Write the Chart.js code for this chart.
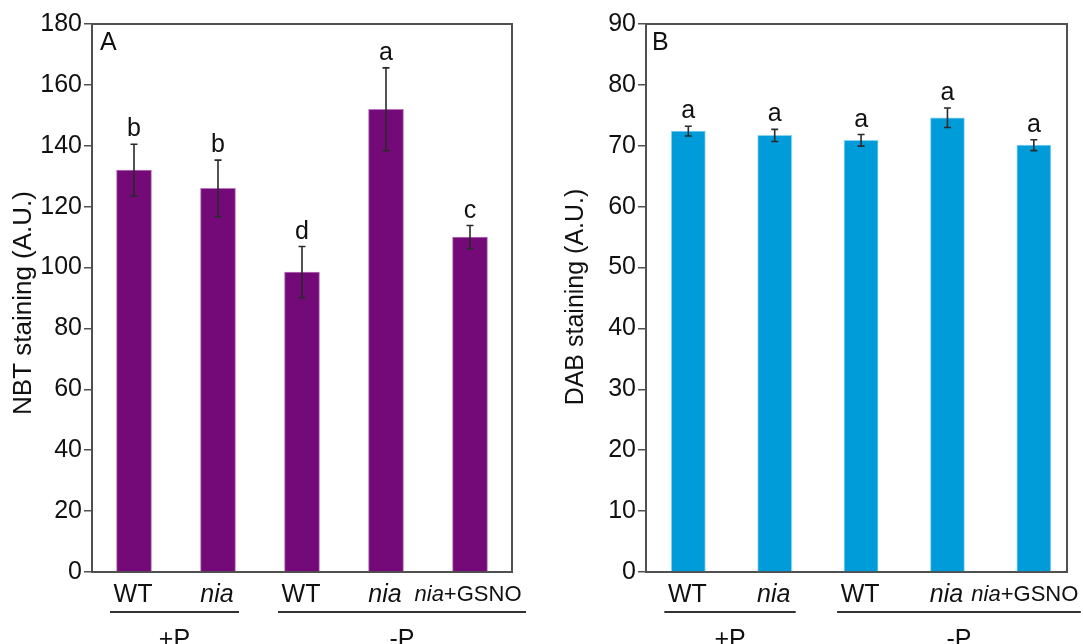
<!DOCTYPE html>
<html>
<head>
<meta charset="utf-8">
<script src="https://cdn.jsdelivr.net/npm/chart.js@4/dist/chart.umd.min.js"></script>
<style>
  html, body { margin: 0; padding: 0; background: #fff; }
  #wrap { position: relative; width: 1083px; height: 644px; overflow: hidden; }
  canvas { position: absolute; top: 0; }
</style>
</head>
<body>
<div id="wrap">
  <canvas id="cA" width="540" height="644" style="left:0px"></canvas>
  <canvas id="cB" width="543" height="644" style="left:540px"></canvas>
</div>
<script>
// ---- data ----
const categories = ['WT', 'nia', 'WT', 'nia', 'nia+GSNO'];
const groupLabels = ['+P', '-P'];
const nbtValues = [132, 126, 98.5, 152, 110];
const nbtErrors = [8.5, 9.3, 8.4, 13.6, 3.8];
const nbtLetters = ['b', 'b', 'd', 'a', 'c'];
const dabValues = [72.4, 71.7, 70.9, 74.6, 70.1];
const dabErrors = [0.8, 1.0, 0.95, 1.6, 0.9];
const dabLetters = ['a', 'a', 'a', 'a', 'a'];
const nbtTicks = { min: 0, max: 180, step: 20 };
const dabTicks = { min: 0, max: 90, step: 10 };

const FONT = '"Liberation Sans", Arial, Helvetica, sans-serif';
const AXIS = '#505050';

function decorPlugin(cfg) {
  return {
    id: 'decor' + cfg.panel,
    afterDatasetsDraw(chart) {
      const ctx = chart.ctx, xs = chart.scales.x, ys = chart.scales.y, ca = chart.chartArea;
      ctx.save();
      // frame (top and right)
      ctx.strokeStyle = AXIS; ctx.lineWidth = 2;
      ctx.beginPath();
      ctx.moveTo(ca.left, ca.top); ctx.lineTo(ca.right, ca.top); ctx.lineTo(ca.right, ca.bottom);
      ctx.stroke();
      // error bars and letters
      cfg.values.forEach((v, i) => {
        const px = xs.getPixelForValue(i);
        const yt = ys.getPixelForValue(v + cfg.errors[i]);
        const yb = ys.getPixelForValue(v - cfg.errors[i]);
        ctx.strokeStyle = '#2a2a2a'; ctx.lineWidth = 1.6;
        ctx.beginPath();
        ctx.moveTo(px, yt); ctx.lineTo(px, yb);
        ctx.moveTo(px - 3.5, yt); ctx.lineTo(px + 3.5, yt);
        ctx.moveTo(px - 3.5, yb); ctx.lineTo(px + 3.5, yb);
        ctx.stroke();
        ctx.fillStyle = '#111';
        ctx.font = '25px ' + FONT;
        ctx.textAlign = 'center'; ctx.textBaseline = 'alphabetic';
        ctx.fillText(cfg.letters[i], px, yt - 8);
      });
      // panel letter
      ctx.fillStyle = '#111';
      ctx.font = '25px ' + FONT;
      ctx.textAlign = 'left';
      ctx.fillText(cfg.panel, ca.left + cfg.letterDx, ca.top + 26);
      // x labels
      const baseY = ca.bottom + 30;
      categories.forEach((lab, i) => {
        const px = xs.getPixelForValue(i);
        if (lab === 'WT') {
          ctx.font = '25px ' + FONT; ctx.textAlign = 'center';
          ctx.fillText(lab, px - 1, baseY);
        } else if (lab === 'nia') {
          ctx.font = 'italic 25px ' + FONT; ctx.textAlign = 'center';
          ctx.fillText(lab, px - 1, baseY);
        } else {
          const parts = lab.split('+');
          const f1 = 'italic 22px ' + FONT, f2 = '22px ' + FONT;
          ctx.font = f1; const w1 = ctx.measureText(parts[0]).width;
          ctx.font = f2; const w2 = ctx.measureText('+' + parts[1]).width;
          let sx = px - cfg.gsnoShift - (w1 + w2) / 2;
          ctx.textAlign = 'left';
          ctx.font = f1; ctx.fillText(parts[0], sx, baseY - 1);
          ctx.font = f2; ctx.fillText('+' + parts[1], sx + w1, baseY - 1);
        }
      });
      // group lines
      const lineY = ca.bottom + 40;
      const g = [
        [xs.getPixelForValue(0) - 24, xs.getPixelForValue(1) + 21],
        [xs.getPixelForValue(2) - 24, xs.getPixelForValue(4) + cfg.lineEnd]
      ];
      ctx.strokeStyle = '#333'; ctx.lineWidth = 2;
      g.forEach((seg, k) => {
        ctx.beginPath(); ctx.moveTo(seg[0], lineY); ctx.lineTo(seg[1], lineY); ctx.stroke();
        ctx.font = '25px ' + FONT; ctx.textAlign = 'center';
        ctx.fillText(groupLabels[k], (seg[0] + seg[1]) / 2, ca.bottom + 75);
      });
      // y title
      ctx.save();
      ctx.translate(cfg.titleX, cfg.titleY);
      ctx.rotate(-Math.PI / 2);
      ctx.font = cfg.titleFont + 'px ' + FONT;
      ctx.textAlign = 'center'; ctx.textBaseline = 'middle';
      ctx.fillText(cfg.title, 0, 0);
      ctx.restore();
      ctx.restore();
    }
  };
}

function makeChart(id, cfg) {
  return new Chart(document.getElementById(id), {
    type: 'bar',
    data: {
      labels: categories,
      datasets: [{
        data: cfg.values.map((v, i) => ({ x: i, y: v })),
        backgroundColor: cfg.color,
        borderColor: cfg.edge,
        borderWidth: 1,
        barThickness: cfg.barW
      }]
    },
    options: {
      responsive: false,
      animation: false,
      devicePixelRatio: 1,
      layout: { padding: { top: 24, right: cfg.padRight, left: 0, bottom: 0 } },
      plugins: { legend: { display: false }, tooltip: { enabled: false } },
      scales: {
        x: {
          type: 'linear',
          offset: false,
          min: cfg.xRange[0], max: cfg.xRange[1],
          grid: { display: false, offset: false },
          ticks: { display: false },
          border: { display: true, color: AXIS, width: 2 },
          afterFit(s) { s.height = 72; }
        },
        y: {
          min: cfg.ticks.min, max: cfg.ticks.max,
          ticks: { stepSize: cfg.ticks.step, color: '#111', padding: 2, font: { size: 25, family: FONT } },
          grid: { drawOnChartArea: false, drawTicks: true, tickLength: 8, color: AXIS, lineWidth: 1.5 },
          border: { display: true, color: AXIS, width: 2 },
          afterFit(s) { s.width = cfg.yWidth; }
        }
      }
    },
    plugins: [decorPlugin(cfg)]
  });
}

makeChart('cA', {
  panel: 'A', values: nbtValues, errors: nbtErrors, letters: nbtLetters, ticks: nbtTicks,
  color: '#730A78', edge: '#b978bd', padRight: 28, yWidth: 92, letterDx: 8, lineEnd: 56,
  xRange: [-0.5, 4.5], barW: 35,
  title: 'NBT staining (A.U.)', titleX: 24, titleY: 303, titleFont: 26, gsnoShift: 2
});
makeChart('cB', {
  panel: 'B', values: dabValues, errors: dabErrors, letters: dabLetters, ticks: dabTicks,
  color: '#009BD9', edge: '#86d3f2', padRight: 16, yWidth: 106, letterDx: 6, lineEnd: 47,
  xRange: [-0.49, 4.384], barW: 34,
  title: 'DAB staining (A.U.)', titleX: 36, titleY: 297, titleFont: 25, gsnoShift: 9
});
</script>
</body>
</html>
